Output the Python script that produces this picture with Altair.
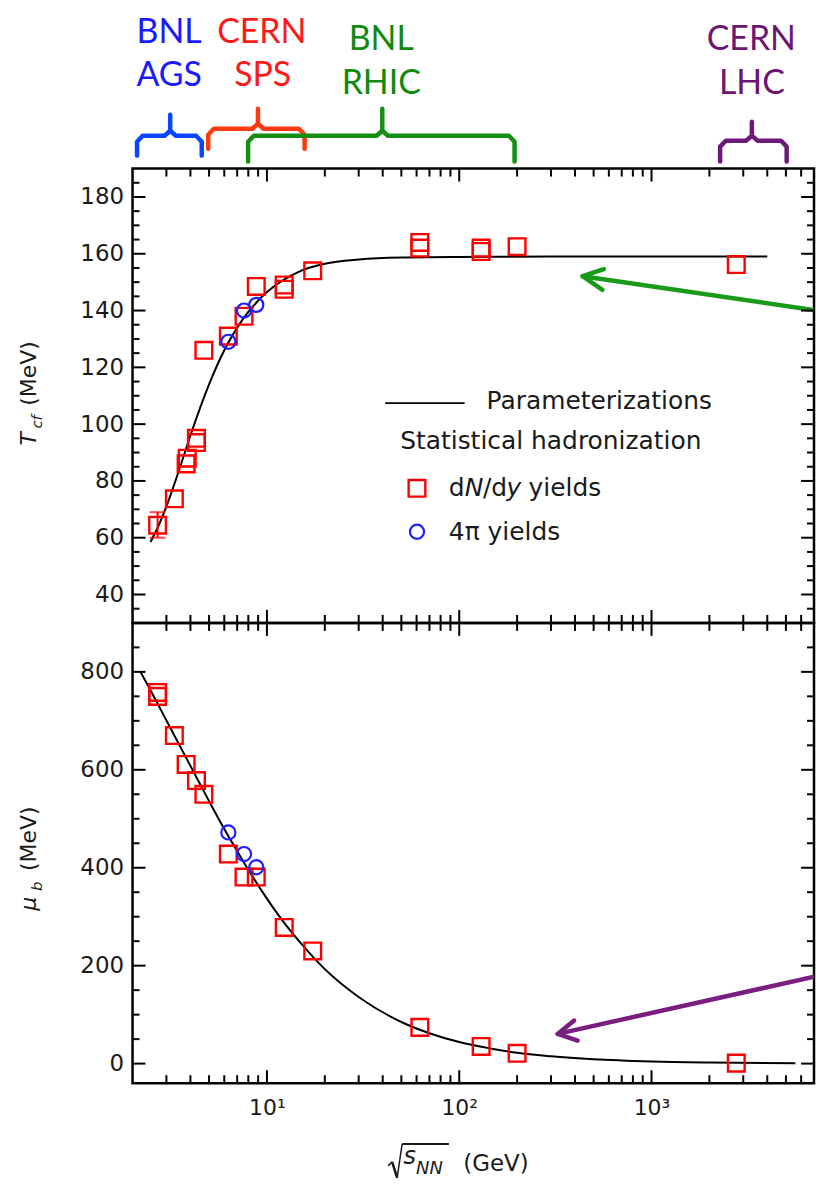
import altair as alt
import pandas as pd

# ---------------- data ----------------
# top panel: chemical freeze-out temperature T_cf (MeV)
top_sq_x = [2.7, 3.3, 3.8, 3.85, 4.3, 4.3, 4.7, 6.3, 7.6, 8.8, 12.3, 12.3, 17.3, 62.4, 62.4, 130, 130, 200, 2760]
top_sq_T = [64.4, 73.7, 86.0, 88.0, 93.5, 95.0, 126, 131, 138, 148.5, 147.5, 149.0, 154, 162, 164, 160.8, 162, 162.5, 156.2]
top_ci_x = [6.3, 7.6, 8.8]
top_ci_T = [129, 140, 142]
err_x = [2.7]
err_lo = [60]
err_hi = [69]
top_curve_x = [2.48, 2.7, 3.0, 3.5, 4.0, 5.0, 6.0, 7.0, 8.0, 10, 12, 15, 20, 30, 50, 100, 300, 1000, 4000]
top_curve_T = [58.5, 63.5, 71, 84, 96, 114, 126, 134, 139.5, 146.5, 150.5, 154, 156.5, 158, 158.7, 158.9, 159, 159, 159]

# bottom panel: baryon chemical potential mu_b (MeV)
bot_sq_x = [2.7, 2.7, 3.3, 3.8, 4.3, 4.7, 6.3, 7.6, 8.8, 12.3, 17.3, 62.4, 130, 200, 2760]
bot_sq_mu = [758, 750, 670, 611, 578, 550, 428, 381, 381, 278, 230, 74, 35, 21, 1]
bot_ci_x = [6.3, 7.6, 8.8]
bot_ci_mu = [472, 428, 401]
bot_curve_x = [2.2, 2.5, 3, 3.5, 4, 5, 6, 7, 8, 10, 12, 15, 20, 30, 50, 70, 100, 150, 200, 300, 500, 1000, 2000, 5600]
bot_curve_mu = [800, 760, 701, 651, 608, 536, 479, 434, 396, 337, 293, 246, 193, 136, 85, 62, 44, 30, 22, 15, 9, 4.5, 2.3, 0.8]

# axis ticks
x_major = [10, 100, 1000]
x_labels = ["10\u00b9", "10\u00b2", "10\u00b3"]
x_minor = [3, 4, 5, 6, 7, 8, 9, 20, 30, 40, 50, 60, 70, 80, 90,
           200, 300, 400, 500, 600, 700, 800, 900, 2000, 3000, 4000, 5000, 6000]
T_major = [40, 60, 80, 100, 120, 140, 160, 180]
T_minor = [35, 45, 50, 55, 65, 70, 75, 85, 90, 95, 105, 110, 115, 125, 130, 135,
           145, 150, 155, 165, 170, 175, 185]
mu_major = [0, 200, 400, 600, 800]
mu_minor = [50, 100, 150, 250, 300, 350, 450, 500, 550, 650, 700, 750, 850]

# accelerator annotations (sqrt(s) in GeV; vertical in px from panel top)
acc_colors = ["#0a46ff", "#ff3a10", "#138f13", "#6c1a78"]
acc_text_colors = ["#1a1aff", "#ff1a1a", "#0f8a0f", "#6b1670"]
br_left = [2.11, 4.95, 7.98, 2274]
br_mid = [3.14, 8.98, 39.8, 3326]
br_right = [4.58, 15.7, 194, 5045]
br_end = [144, 137, 150, 150]
br_bar = [124, 117, 124, 129]
br_peak = [103, 97, 97, 110]
lab1 = ["BNL", "CERN", "BNL", "CERN"]
lab2 = ["AGS", "SPS", "RHIC", "LHC"]
lab_x1 = [3.1, 9.4, 39.3, 3305]
lab_x2 = [3.1, 9.5, 39.3, 3327]
lab_y1 = [21, 21, 28, 28]
lab_y2 = [64, 64, 72, 72]

# ---------------- layout ----------------
W = 684
H_ANN = 157
H_TOP = 456
H_BOT = 462
FONT = "DejaVu Sans"
INK = "#1a1a1a"
RED = "#ff0000"
BLUE = "#1e1eff"

XS = alt.Scale(type="log", domain=[2, 7000], nice=False)
YT = alt.Scale(domain=[30, 190], nice=False, zero=False)
YB = alt.Scale(domain=[-40, 900], nice=False, zero=False)
YA = alt.Scale(domain=[0, H_ANN], reverse=True, nice=False, zero=False)

one = pd.DataFrame({"k": [0]})


def y_axis(values):
    return alt.Axis(values=values, ticks=False, domain=False, grid=False, title="",
                    labelPadding=9, labelFont=FONT, labelFontSize=23, labelColor=INK)


label_expr = " : ".join(f"datum.value == {v} ? '{l}'" for v, l in zip(x_major, x_labels)) + " : ''"
X_AXIS_BOT = alt.Axis(values=x_major, labelExpr=label_expr, ticks=False, domain=False, grid=False,
                      title="", labelPadding=14, labelFont=FONT, labelFontSize=22, labelColor=INK,
                      labelFlush=False)


class Panel:
    def __init__(self, yscale, yaxis, xaxis):
        self.ys = yscale
        self.ya = yaxis
        self.xa = xaxis

    def X(self, field="x"):
        return alt.X(f"{field}:Q", scale=XS, axis=self.xa)

    def Y(self, field="y"):
        return alt.Y(f"{field}:Q", scale=self.ys, axis=self.ya)

    def path(self, df, color, width, clip=False):
        return alt.Chart(df).mark_line(color=color, strokeWidth=width, strokeCap="round",
                                       strokeJoin="round", clip=clip).encode(
            x=self.X("x"), y=self.Y("y"), detail="seg:N", order="ord:Q")

    def frame_ticks(self, ymaj, ymin, H):
        layers = []
        for vals, L in [(x_major, 13), (x_minor, 8)]:
            base = alt.Chart(pd.DataFrame({"v": vals}))
            layers.append(base.mark_rule(color="black", strokeWidth=2).encode(
                x=self.X("v"), y=alt.value(H), y2=alt.value(H - L)))
            layers.append(base.mark_rule(color="black", strokeWidth=2).encode(
                x=self.X("v"), y=alt.value(0), y2=alt.value(L)))
        for vals, L in [(ymaj, 13), (ymin, 7)]:
            base = alt.Chart(pd.DataFrame({"v": vals}))
            layers.append(base.mark_rule(color="black", strokeWidth=2).encode(
                y=self.Y("v"), x=alt.value(0), x2=alt.value(L)))
            layers.append(base.mark_rule(color="black", strokeWidth=2).encode(
                y=self.Y("v"), x=alt.value(W), x2=alt.value(W - L)))
        return layers


def vtext(text, x, y, size, italic=False):
    return alt.Chart(one).mark_text(
        text=text, angle=270, align="left", baseline="alphabetic", font=FONT,
        fontSize=size, fontStyle="italic" if italic else "normal", color=INK
    ).encode(x=alt.value(x), y=alt.value(y))


def htext(text, x, y, size, italic=False, align="left"):
    return alt.Chart(one).mark_text(
        text=text, align=align, baseline="alphabetic", font=FONT,
        fontSize=size, fontStyle="italic" if italic else "normal", color=INK
    ).encode(x=alt.value(x), y=alt.value(y))


def arrow_df(tail, tip, arm1, arm2):
    rows = [(tail, 0, 0), (tip, 0, 1), (arm1, 1, 0), (tip, 1, 1), (arm2, 1, 2)]
    return pd.DataFrame({"x": [r[0][0] for r in rows], "y": [r[0][1] for r in rows],
                         "seg": [r[1] for r in rows], "ord": [r[2] for r in rows]})


# ---------------- annotation panel (accelerators) ----------------
PA = Panel(YA, None, None)
k = 1.07
ann_layers = []
for i in range(4):
    xl, xm, xr = br_left[i], br_mid[i], br_right[i]
    ye, yb, yp = br_end[i], br_bar[i], br_peak[i]
    pts = [(xl, ye), (xl, yb + 6), (xl * k, yb), (xm / k, yb), (xm, yb - 5), (xm, yp),
           (xm, yb - 5), (xm * k, yb), (xr / k, yb), (xr, yb + 6), (xr, ye)]
    df = pd.DataFrame({"x": [p[0] for p in pts], "y": [p[1] for p in pts],
                       "seg": [0] * len(pts), "ord": list(range(len(pts)))})
    ann_layers.append(PA.path(df, acc_colors[i], 4.5, clip=True))
    tdf = pd.DataFrame({"x": [lab_x1[i], lab_x2[i]], "y": [lab_y1[i], lab_y2[i]],
                        "t": [lab1[i], lab2[i]]})
    ann_layers.append(alt.Chart(tdf).mark_text(
        font="Lato", fontSize=34, baseline="middle", align="center", clip=True,
        color=acc_text_colors[i]).encode(x=PA.X("x"), y=PA.Y("y"), text="t:N"))

ann = alt.layer(*ann_layers).properties(
    width=W, height=H_ANN, view=alt.ViewBackground(stroke="transparent"))

# ---------------- top panel ----------------
PT = Panel(YT, y_axis(T_major), None)
tcurve = pd.DataFrame({"x": top_curve_x, "y": top_curve_T})
tsq = pd.DataFrame({"x": top_sq_x, "y": top_sq_T})
tci = pd.DataFrame({"x": top_ci_x, "y": top_ci_T})
terr = pd.DataFrame({"x": err_x, "lo": err_lo, "hi": err_hi})

SQ = dict(shape="square", size=280, filled=False, color=RED, strokeWidth=2.4, opacity=1)
CI = dict(shape="circle", size=200, filled=False, color=BLUE, strokeWidth=2.2, opacity=1)

top_layers = [
    alt.Chart(tcurve).mark_line(color="black", strokeWidth=2, interpolate="monotone").encode(
        x=PT.X("x"), y=PT.Y("y")),
    alt.Chart(terr).mark_rule(color=RED, strokeWidth=2).encode(
        x=PT.X("x"), y=PT.Y("lo"), y2="hi:Q"),
    alt.Chart(terr).mark_tick(color=RED, orient="horizontal", size=16, thickness=2).encode(
        x=PT.X("x"), y=PT.Y("lo")),
    alt.Chart(terr).mark_tick(color=RED, orient="horizontal", size=16, thickness=2).encode(
        x=PT.X("x"), y=PT.Y("hi")),
    alt.Chart(tsq).mark_point(**SQ).encode(x=PT.X("x"), y=PT.Y("y")),
    alt.Chart(tci).mark_point(**CI).encode(x=PT.X("x"), y=PT.Y("y")),
]

# legend (placed in data coordinates of the top panel)
leg_line = pd.DataFrame({"x": [41.2, 106.7], "y": [107.4, 107.4]})
top_layers.append(alt.Chart(leg_line).mark_line(color="black", strokeWidth=2).encode(
    x=PT.X("x"), y=PT.Y("y")))
leg_txt = pd.DataFrame({"x": [138.7, 49.3, 88.3], "y": [108.0, 94.0, 62.1],
                        "t": ["Parameterizations", "Statistical hadronization", "4\u03c0 yields"]})
top_layers.append(alt.Chart(leg_txt).mark_text(
    font=FONT, fontSize=25, align="left", baseline="middle", color=INK).encode(
    x=PT.X("x"), y=PT.Y("y"), text="t:N"))
dn_pieces = [("d", 0, False), ("N", 15.9, True), ("/", 34.4, False), ("d", 42.6, False),
             ("y", 58.0, True), ("yields", 80.0, False)]
for t, dx, it in dn_pieces:
    top_layers.append(alt.Chart(pd.DataFrame({"x": [88.3], "y": [77.4]})).mark_text(
        text=t, dx=dx, font=FONT, fontSize=25, align="left", baseline="middle", color=INK,
        fontStyle="italic" if it else "normal").encode(x=PT.X("x"), y=PT.Y("y")))
top_layers.append(alt.Chart(pd.DataFrame({"x": [60.3], "y": [77.4]})).mark_point(**SQ).encode(
    x=PT.X("x"), y=PT.Y("y")))
top_layers.append(alt.Chart(pd.DataFrame({"x": [60.3], "y": [62.1]})).mark_point(**CI).encode(
    x=PT.X("x"), y=PT.Y("y")))

# green arrow (clipped at the frame so the page does not grow wider)
top_layers.append(PT.path(arrow_df((7460, 139.9), (438, 152.1), (565, 154.6), (556, 147.3)),
                          "#1a9a1a", 4.5, clip=True))

top_layers += PT.frame_ticks(T_major, T_minor, H_TOP)
top_layers += [vtext("T", -97, 278, 22, True), vtext("cf", -91, 261, 15, True),
               vtext("(MeV)", -97, 238, 22)]

top = alt.layer(*top_layers).properties(width=W, height=H_TOP)

# ---------------- bottom panel ----------------
PB = Panel(YB, y_axis(mu_major), X_AXIS_BOT)
bcurve = pd.DataFrame({"x": bot_curve_x, "y": bot_curve_mu})
bsq = pd.DataFrame({"x": bot_sq_x, "y": bot_sq_mu})
bci = pd.DataFrame({"x": bot_ci_x, "y": bot_ci_mu})

bot_layers = [
    alt.Chart(bcurve).mark_line(color="black", strokeWidth=2, interpolate="monotone").encode(
        x=PB.X("x"), y=PB.Y("y")),
    alt.Chart(bsq).mark_point(**SQ).encode(x=PB.X("x"), y=PB.Y("y")),
    alt.Chart(bci).mark_point(**CI).encode(x=PB.X("x"), y=PB.Y("y")),
    PB.path(arrow_df((7460, 179.8), (325, 60.7), (396, 87.8), (413, 47.0)), "#7a1f80", 4.5,
            clip=True),
]
bot_layers += PB.frame_ticks(mu_major, mu_minor, H_BOT)
bot_layers += [vtext("\u03bc", -97, 289, 22, True), vtext("b", -91, 269, 15, True),
               vtext("(MeV)", -97, 249, 22)]

# x-axis title: sqrt(s_NN) (GeV)
seg = [(256.6, 545, 260.6, 541, 1.5), (260.6, 541, 265.6, 557, 2.5),
       (265.6, 557, 270.6, 523, 1.5), (270.6, 523, 317.6, 523, 2)]
for x1, y1, x2, y2, sw in seg:
    bot_layers.append(alt.Chart(one).mark_rule(color=INK, strokeWidth=sw).encode(
        x=alt.value(x1), y=alt.value(y1), x2=alt.value(x2), y2=alt.value(y2)))
bot_layers += [htext("s", 272, 543, 24, True), htext("NN", 284.5, 553, 18, True),
               htext("(GeV)", 332, 550, 23)]
# invisible left anchor fixing the left extent of the figure
bot_layers.append(alt.Chart(one).mark_rule(strokeOpacity=0, strokeWidth=1).encode(
    x=alt.value(-123), x2=alt.value(-123), y=alt.value(0), y2=alt.value(10)))

bot = alt.layer(*bot_layers).properties(width=W, height=H_BOT)

chart = alt.vconcat(ann, top, bot, spacing=0, bounds="flush").properties(
    padding=0, background="white"
).configure_view(stroke="black", strokeWidth=2.5)

chart.save("out.html", embed_options={"renderer": "svg", "actions": False})
